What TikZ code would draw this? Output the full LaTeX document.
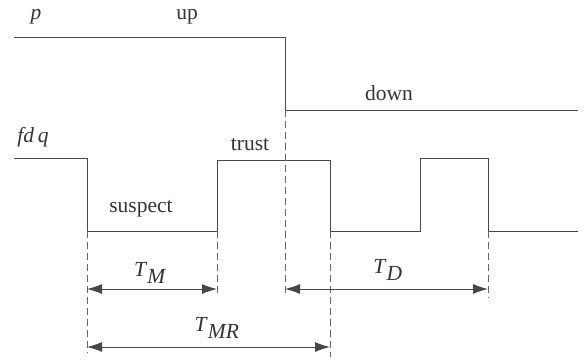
\documentclass[tikz,border=0pt]{standalone}
\usepackage{fontspec}
\setmainfont{Liberation Serif}
\usetikzlibrary{arrows.meta}

\begin{document}
\begin{tikzpicture}[x=1pt,y=-1pt,
	sig/.style={draw=black!72, line width=1pt},
	guide/.style={draw=black!60, dash pattern=on 7pt off 4pt, line width=0.9pt},
	span/.style={draw=black!72, line width=1pt, {Latex[length=15pt,width=10pt]}-{Latex[length=15pt,width=10pt]}},
	lbl/.style={font=\fontsize{21.5}{24}\selectfont, text=black!80, inner sep=0pt}]
	\useasboundingbox (0,0) rectangle (585,360);
	
	% process p
	\coordinate (p0) at (14,37);
	\coordinate (p1) at (285,37);
	\coordinate (p2) at (285,110);
	\coordinate (p3) at (578,110);
	\draw[sig] (p0) -- (p1) -- (p2) -- (p3);
	
	% failure detector output
	\coordinate (f0) at (14,158);
	\coordinate (f1) at (87,158);
	\coordinate (f2) at (87,231);
	\coordinate (f3) at (217,231);
	\coordinate (f4) at (217,160);
	\coordinate (f5) at (330,160);
	\coordinate (f6) at (330,231);
	\coordinate (f7) at (420,231);
	\coordinate (f8) at (420,158);
	\coordinate (f9) at (488,158);
	\coordinate (f10) at (488,231);
	\coordinate (f11) at (578,231);
	\draw[sig] (f0) -- (f1) -- (f2) -- (f3) -- (f4) -- (f5) -- (f6) -- (f7) -- (f8) -- (f9) -- (f10) -- (f11);
	
	% guides
	\coordinate (g1) at (87,353);
	\coordinate (g2) at (217,293);
	\coordinate (g3) at (285,296);
	\coordinate (g4) at (330,357);
	\coordinate (g5) at (488,298);
	\draw[guide] (f2) -- (g1);
	\draw[guide] (f3) -- (g2);
	\draw[guide] (p2) -- (g3);
	\draw[guide] (f6) -- (g4);
	\draw[guide] (f10) -- (g5);
	
	% spans
	\draw[span] (87,289) -- (217,289);
	\draw[span] (285,289) -- (488,289);
	\draw[span] (87,347) -- (330,347);
	
	\node[lbl] (lp) at (36,17) {\textit{p}};
	\node[lbl] (lup) at (187,17) {up};
	\node[lbl] (ldown) at (389,93) {down};
	\node[lbl] (lfd) at (33,137) {\textit{fd\,q}};
	\node[lbl] (ltrust) at (250,145) {trust};
	\node[lbl] (lsus) at (141,209) {suspect};
	\node[lbl] (ltm) at (150,273) {\textit{T}$_{\textit{M}}$};
	\node[lbl] (ltd) at (388,270) {\textit{T}$_{\textit{D}}$};
	\node[lbl] (ltmr) at (217,328) {\textit{T}$_{\textit{MR}}$};
	
\end{tikzpicture}
\end{document}
